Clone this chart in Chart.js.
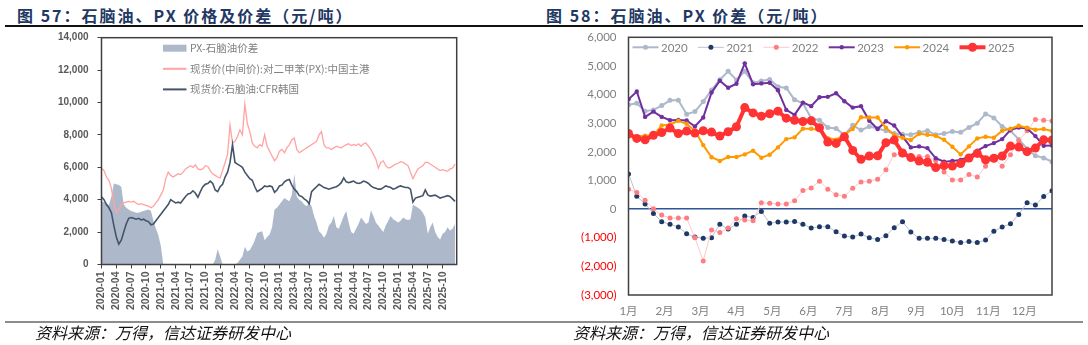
<!DOCTYPE html>
<html>
<head>
<meta charset="utf-8">
<script src="https://cdn.jsdelivr.net/npm/chart.js@4.4.1/dist/chart.umd.min.js"></script>
<style>
  body { margin: 0; background: #fff; }
  #page { position: relative; width: 1088px; height: 345px; overflow: hidden; font-family: "Noto Sans CJK SC", sans-serif; }
  .title { position: absolute; top: 4px; font-size: 16px; font-weight: bold; color: #1f3864; letter-spacing: 2px; line-height: 22px; white-space: nowrap; }
  .rule { position: absolute; left: 5px; width: 1078px; }
  .src { position: absolute; top: 322px; font-size: 16px; font-style: italic; color: #111; line-height: 20px; white-space: nowrap; }
  canvas { position: absolute; top: 28px; }
</style>
</head>
<body>
<div id="page">
  <div class="title" style="left:17px">图 57：石脑油、PX 价格及价差（元/吨）</div>
  <div class="title" style="left:546px">图 58：石脑油、PX 价差（元/吨）</div>
  <div class="rule" style="top:25px;height:2px;background:#111"></div>
  <canvas id="left" width="544" height="294" style="left:0"></canvas>
  <canvas id="right" width="544" height="294" style="left:544px"></canvas>
  <div class="rule" style="top:321px;height:2px;background:#8c8c8c"></div>
  <div class="src" style="left:35px">资料来源：万得，信达证券研发中心</div>
  <div class="src" style="left:573px">资料来源：万得，信达证券研发中心</div>
</div>
<script>
// ---- left chart: half-month readings, Jan 2020 .. Dec 2025 ----
const quarterLabels = ['2020-01','2020-04','2020-07','2020-10','2021-01','2021-04','2021-07','2021-10',
  '2022-01','2022-04','2022-07','2022-10','2023-01','2023-04','2023-07','2023-10',
  '2024-01','2024-04','2024-07','2024-10','2025-01','2025-04','2025-07','2025-10'];
const leftNames = ['PX-石脑油价差', '现货价(中间价):对二甲苯(PX):中国主港', '现货价:石脑油:CFR韩国'];

const spreadVals = [
  3900,3850,3800,3650,4200,5000,4950,4900,4800,3700,3500,3400,3300,3250,3200,3200,3250,3300,3350,3400,3300,2700,2200,1800,
  1150,0,0,0,0,0,0,0,0,0,0,0,0,0,0,0,0,0,0,0,0,0,300,950,
  500,0,0,0,0,0,0,100,300,500,1100,800,900,1150,1500,1950,2000,2050,1500,1700,1850,2300,3400,3500,
  3700,3900,4100,4000,3900,4300,5600,4200,4000,3900,3700,3600,3800,3600,3000,2600,2050,1900,1650,1900,2400,2600,3000,2300,
  2200,2600,3000,3300,2600,2000,1900,2200,2500,2900,2700,2500,2600,3350,3000,2600,2400,2200,2000,2400,2700,3000,2800,2700,
  2600,2700,2900,2800,2750,2800,3700,3600,3500,3400,3200,2900,1900,2300,2600,2000,1700,1550,1900,2000,2300,2100,2200,2500
];
const pxVals = [
  5960,5800,5400,5200,4700,3800,3200,3400,3700,3800,3850,3900,3850,3900,3800,3700,3750,3700,3650,3600,3500,3600,3800,4000,
  4300,4600,5300,5700,5500,5400,5500,5600,5550,5700,5900,6000,6100,6000,6150,5900,5850,5900,6100,6050,5800,5600,5500,5400,
  5350,5800,6300,6800,8600,7500,7600,7900,8300,8000,9900,8700,8200,7500,7300,7200,7400,7300,8000,7300,7000,6700,6400,6600,
  7000,7100,6900,7200,7400,7700,7800,7100,6900,7000,7100,7200,7300,7400,7500,7600,8000,8200,7400,7200,7200,7100,7200,7300,
  7250,7200,7300,7400,7450,7350,7400,7350,7450,7300,7450,7500,7300,7100,6800,6500,5950,6300,6400,6100,5950,6000,6100,6200,
  6250,6350,6300,6200,6100,5700,5300,5600,5900,6000,6100,6300,6300,6200,6100,6000,5900,5800,5850,5800,5750,5900,5950,6200
];
const naphthaVals = [
  4180,4000,3700,3500,3200,2400,1700,1260,1500,2000,2500,2850,2900,2850,2800,2850,2750,2800,2700,2650,2450,2500,2700,2900,
  3100,3300,3500,3700,4000,3900,3800,3850,3800,4000,4200,4350,4400,4550,4400,4150,4500,4800,4950,5000,5150,5000,4600,4500,
  4800,4950,5400,5700,6300,7400,6300,6200,6100,6000,5700,5500,5300,5200,4800,4500,4600,4700,4850,4800,4850,4800,4450,4600,
  4850,4900,5100,5200,5250,4900,4650,4500,4250,4200,4050,3950,3750,4500,4650,4800,4950,4850,4750,4700,4650,4700,4750,4800,
  4900,5050,5350,5100,5050,5100,5150,5050,5000,5050,5150,5100,5000,4850,4750,4700,4650,4650,4750,4850,4800,4750,4650,4700,
  4800,4850,4800,4750,4750,4650,3850,4100,4150,4200,4250,4600,4300,4220,4250,4280,4200,4100,4150,4200,4250,4200,4050,3900
];

// ---- right chart: weekly readings per year ----
const monthLabels = ['1月','2月','3月','4月','5月','6月','7月','8月','9月','10月','11月','12月'];
const yearNames = ['2020','2021','2022','2023','2024','2025'];
const y2020 = [3640,3700,3420,3465,3615,3800,3800,3315,3405,3755,4160,4520,4810,4510,4810,4415,4475,4530,4275,4230,
  3815,3700,3175,3105,2850,2815,2585,2930,2760,2885,2815,2735,2640,2610,2595,2680,2735,2595,2640,2710,
  2680,2850,3000,3325,3185,2885,2735,2435,2110,1865,1785,1655];
const y2021 = [1230,450,175,-150,-440,-530,-625,-860,-975,-1020,-1000,-530,-695,-530,-245,-290,-80,-490,-450,-450,
  -430,-530,-660,-615,-615,-790,-940,-975,-870,-1000,-1065,-930,-650,-440,-800,-1020,-1020,-1020,-1065,-1110,
  -1170,-1135,-1170,-1080,-775,-625,-510,-185,220,140,440,640];
const y2022 = [695,580,313,10,-210,-313,-313,-313,-1000,-1810,-730,-820,-660,-335,-380,-405,220,200,175,175,
  290,650,740,975,695,500,450,730,950,975,1040,1370,1900,1900,1855,1840,1840,1690,1300,1020,
  1020,1205,1125,1495,1810,1495,1900,2390,2735,3130,3105,3080];
const y2023 = [3835,4105,3220,3405,3220,3105,3115,3095,2885,3200,4070,4485,4240,4380,5090,4360,4390,4415,4150,3465,
  3290,3720,3595,3905,3920,4045,3765,3545,3595,3085,2795,3070,2920,2540,2155,2190,2130,1775,1655,1680,
  1715,1830,2040,2200,2305,2445,2770,2850,2815,2550,2215,2225];
const y2024 = [2525,2525,2560,2575,2920,2955,3085,2980,2735,2235,1810,1680,1820,1820,1910,2040,1795,1900,2155,2445,
  2505,2805,2805,2760,2480,2420,2610,2795,3210,3200,3200,2840,2585,2490,2415,2630,2595,2560,2420,2180,
  1910,2190,2470,2525,2490,2735,2805,2910,2840,2770,2795,2725];
const y2025 = [2640,2470,2420,2575,2675,2830,2640,2725,2655,2735,2690,2550,2700,2875,3545,3360,3245,3330,3420,3175,
  3105,3060,3085,2840,2340,2295,2525,2050,1740,1855,1865,2320,2410,1960,1800,1680,1635,1450,1520,1505,
  1590,1785,1945,1725,1775,1855,2200,2165,2005,2130,2420,2410];

const halfMonth = (vals) => vals.map((v, i) => ({ x: i / 2, y: v }));
const weekly = (vals) => vals.map((v, i) => ({ x: i, y: v }));

// keep the plot box where the layout padding puts it
const fixWidth = (w) => (s) => { s.width = w; s.paddingTop = 0; s.paddingBottom = 0; };
const fixHeight = (h) => (s) => { s.height = h; s.paddingLeft = 0; s.paddingRight = 0; };

const boxBorder = {
  id: 'boxBorder',
  afterDraw(chart) {
    const { ctx, chartArea: a } = chart;
    ctx.save();
    ctx.strokeStyle = '#404040';
    ctx.lineWidth = 1.5;
    ctx.strokeRect(a.left, a.top, a.right - a.left, a.bottom - a.top);
    ctx.restore();
  }
};

// left chart legend, stacked inside the plot
const leftLegend = {
  id: 'leftLegend',
  afterDraw(chart) {
    const { ctx, chartArea: a } = chart;
    const x0 = a.left + 61.5;
    ctx.save();
    ctx.font = '10.5px "Noto Sans CJK SC"';
    ctx.textBaseline = 'middle';
    leftNames.forEach((name, k) => {
      const y = a.top + 10.5 + k * 20.6;
      const ds = chart.data.datasets[k];
      if (k === 0) {
        ctx.fillStyle = ds.backgroundColor;
        ctx.fillRect(x0, y - 3.5, 23.5, 7);
      } else {
        ctx.strokeStyle = ds.borderColor;
        ctx.lineWidth = 2;
        ctx.beginPath(); ctx.moveTo(x0, y); ctx.lineTo(x0 + 23.5, y); ctx.stroke();
      }
      ctx.fillStyle = '#808080';
      ctx.fillText(name, x0 + 27, y);
    });
    ctx.restore();
  }
};

new Chart(document.getElementById('left'), {
  type: 'line',
  data: {
    datasets: [
      { label: leftNames[0], data: halfMonth(spreadVals), backgroundColor: '#adb9ca', borderColor: '#adb9ca',
        borderWidth: 0, fill: 'origin', pointRadius: 0, order: 2 },
      { label: leftNames[1], data: halfMonth(pxVals), borderColor: '#ffa3a3', borderWidth: 1.3,
        fill: false, pointRadius: 0, order: 1 },
      { label: leftNames[2], data: halfMonth(naphthaVals), borderColor: '#44546a', borderWidth: 1.6,
        fill: false, pointRadius: 0, order: 0 }
    ]
  },
  options: {
    responsive: false,
    animation: false,
    layout: { padding: { top: 9.7, right: 87.3, left: 0, bottom: 0 } },
    plugins: { legend: { display: false }, tooltip: { enabled: false } },
    scales: {
      x: {
        type: 'linear', min: 0, max: 71.85,
        afterBuildTicks: (s) => { s.ticks = quarterLabels.map((_, k) => ({ value: k * 3 })); },
        afterFit: fixHeight(57.5),
        grid: { display: true, drawOnChartArea: false, drawTicks: true, tickLength: 4, color: '#404040' },
        border: { display: false },
        ticks: {
          autoSkip: false, minRotation: 90, maxRotation: 90, padding: 3,
          color: '#595959', font: { family: 'Liberation Sans', size: 10.5, weight: 'bold' },
          callback: (v, i) => quarterLabels[i]
        }
      },
      y: {
        min: 0, max: 14000,
        afterFit: fixWidth(101.5),
        grid: { display: true, drawOnChartArea: false, drawTicks: true, tickLength: 4, color: '#404040' },
        border: { display: false },
        ticks: {
          stepSize: 2000, padding: 9,
          color: '#595959', font: { family: 'Liberation Sans', size: 10, weight: 'bold' },
          callback: (v) => v.toLocaleString('en-US')
        }
      }
    }
  },
  plugins: [boxBorder, leftLegend]
});

// right chart styling per year
const yearStyle = [
  { line: '#adb9ca', dot: '#adb9ca', width: 2, radius: 2.5 },
  { line: '#b4c3d8', dot: '#203864', width: 1, radius: 2.5 },
  { line: '#ffc7c9', dot: '#ff7c80', width: 1, radius: 2.5 },
  { line: '#7030a0', dot: '#7030a0', width: 2, radius: 2.2 },
  { line: '#ff9900', dot: '#ff9900', width: 2, radius: 2.2 },
  { line: '#ff3333', dot: '#ff3333', width: 4, radius: 4.5 }
];
const yearVals = [y2020, y2021, y2022, y2023, y2024, y2025];

const rightLegend = {
  id: 'rightLegend',
  afterDraw(chart) {
    const { ctx, chartArea: a } = chart;
    ctx.save();
    ctx.font = '11.5px Lato';
    ctx.textBaseline = 'middle';
    yearNames.forEach((name, k) => {
      const st = yearStyle[k];
      const x = a.left + 4 + k * 65.4;
      const y = a.top + 10;
      ctx.strokeStyle = st.line;
      ctx.lineWidth = st.width;
      ctx.beginPath(); ctx.moveTo(x, y); ctx.lineTo(x + 26, y); ctx.stroke();
      ctx.fillStyle = st.dot;
      ctx.beginPath(); ctx.arc(x + 13, y, st.radius, 0, Math.PI * 2); ctx.fill();
      ctx.fillStyle = '#808080';
      ctx.fillText(name, x + 28.5, y + 0.5);
    });
    ctx.restore();
  }
};

new Chart(document.getElementById('right'), {
  type: 'line',
  data: {
    datasets: yearVals.map((vals, k) => ({
      label: yearNames[k],
      data: weekly(vals),
      borderColor: yearStyle[k].line,
      borderWidth: yearStyle[k].width,
      pointRadius: yearStyle[k].radius,
      pointBackgroundColor: yearStyle[k].dot,
      pointBorderWidth: 0,
      fill: false,
      order: 5 - k
    }))
  },
  options: {
    responsive: false,
    animation: false,
    layout: { padding: { top: 9.3, right: 36, left: 0, bottom: 0 } },
    plugins: { legend: { display: false }, tooltip: { enabled: false } },
    scales: {
      x: {
        type: 'linear', min: 0, max: 51,
        afterBuildTicks: (s) => { s.ticks = monthLabels.map((_, k) => ({ value: k * 52 / 12 })); },
        afterFit: fixHeight(27),
        grid: { display: false, drawTicks: false },
        border: { display: false },
        ticks: {
          autoSkip: false, maxRotation: 0, padding: 9,
          color: '#808080', font: { family: 'Lato, "Noto Sans CJK SC"', size: 11.5 },
          callback: (v, i) => monthLabels[i]
        }
      },
      y: {
        min: -3000, max: 6000,
        afterFit: fixWidth(84.5),
        grid: {
          display: true, drawTicks: false,
          color: (c) => c.tick.value === 0 ? '#2f5597' : 'rgba(0,0,0,0)',
          lineWidth: 1.5
        },
        border: { display: false },
        ticks: {
          stepSize: 1000, padding: 12,
          color: (c) => c.tick.value < 0 ? '#ff0000' : '#808080',
          font: { family: 'Lato', size: 11.5 },
          callback: (v) => v < 0 ? '(' + Math.abs(v).toLocaleString('en-US') + ')' : v.toLocaleString('en-US')
        }
      }
    }
  },
  plugins: [boxBorder, rightLegend]
});
</script>
</body>
</html>
